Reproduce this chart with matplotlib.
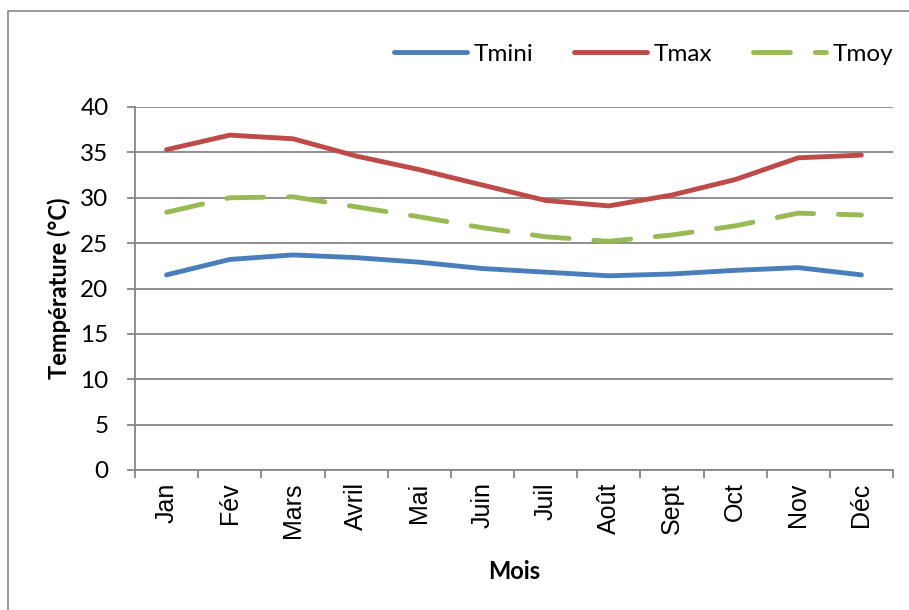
import matplotlib
matplotlib.use('Agg')
import numpy as np
import matplotlib.pyplot as plt
from matplotlib.patches import Rectangle

# Monthly temperatures
months = ['Jan', 'Fév', 'Mars', 'Avril', 'Mai', 'Juin',
          'Juil', 'Août', 'Sept', 'Oct', 'Nov', 'Déc']
tmini = [21.5, 23.2, 23.7, 23.4, 22.9, 22.2, 21.8, 21.4, 21.6, 22.0, 22.3, 21.5]
tmax = [35.3, 36.9, 36.5, 34.6, 33.1, 31.4, 29.7, 29.1, 30.3, 32.0, 34.4, 34.7]
tmoy = [28.4, 30.0, 30.1, 29.0, 27.9, 26.7, 25.7, 25.2, 25.9, 26.9, 28.3, 28.1]

plt.rcParams['font.family'] = ['Lato', 'DejaVu Sans']
grey = '#868686'

fig = plt.figure(figsize=(9.09, 6.10), dpi=100)
ax = fig.add_axes([135 / 909, 140 / 610, 758 / 909, 363 / 610])

# outer chart border like the Excel chart area
fig.patches.append(Rectangle((8 / 909, -0.05), 1.2, (610 - 11) / 610 + 0.05,
                             transform=fig.transFigure, fill=False,
                             edgecolor=grey, linewidth=1.2))

x = np.arange(len(months))
ax.plot(x, tmini, color='#4a7ebb', linewidth=3.5, solid_capstyle='round', label='Tmini')
ax.plot(x, tmax, color='#be4b48', linewidth=3.5, solid_capstyle='round', label='Tmax')
ax.plot(x, tmoy, color='#98b954', linewidth=3.5, dash_capstyle='round',
        dashes=(7.6, 5.1), label='Tmoy')

ax.set_xlim(-0.5, len(months) - 0.5)
ax.set_ylim(0, 40)
ax.set_yticks(range(0, 41, 5))
ax.yaxis.grid(True, color=grey, linewidth=1.3)
ax.set_axisbelow(True)

# category ticks between months, labels centered
ax.set_xticks(np.arange(-0.5, len(months)), minor=False)
ax.set_xticklabels([])
ax.set_xticks(x, minor=True)
ax.set_xticklabels(months, minor=True, rotation=90, fontsize=18,
                   family=['Liberation Sans', 'DejaVu Sans'])
ax.tick_params(axis='x', which='major', length=6, color=grey, width=1.3)
ax.tick_params(axis='x', which='minor', length=0, pad=9)
ax.tick_params(axis='y', length=6, color=grey, width=1.3, labelsize=17.5, pad=13)

for side in ['top', 'right']:
    ax.spines[side].set_visible(False)
for side in ['left', 'bottom']:
    ax.spines[side].set_color(grey)
    ax.spines[side].set_linewidth(1.3)

ax.set_ylabel('Température (°C)', fontsize=17, fontweight='bold', labelpad=7)
ax.set_xlabel('Mois', fontsize=17, fontweight='bold', labelpad=16)

ax.legend(loc='center right', bbox_to_anchor=(1.0, 1.145), ncol=3, frameon=False,
          fontsize=17.5, handlelength=3.0, columnspacing=1.7, handletextpad=0.25,
          borderaxespad=0, borderpad=0)

fig.savefig('out.png', dpi=100)
